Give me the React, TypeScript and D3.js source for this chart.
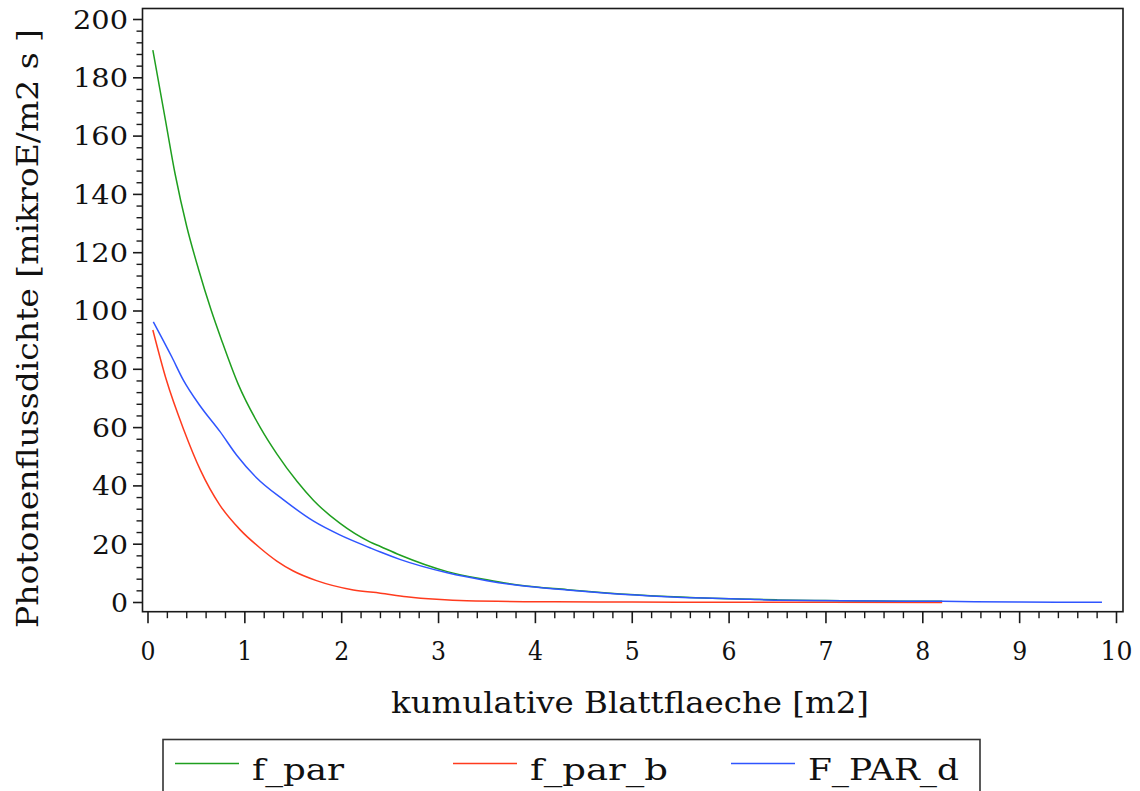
import React from "react";
import * as d3 from "d3";

// ---- data ----
const seriesNames = ["f_par", "f_par_b", "F_PAR_d"];
const seriesColors = ["#1f9f1f", "#ff3b1e", "#2f55ff"];

const fParX = [0.05, 0.18, 0.28, 0.40, 0.52, 0.65, 0.76, 0.93, 1.16, 1.33, 1.54, 1.71, 1.98, 2.29, 2.40, 2.60, 3.09, 3.50, 3.84, 4.33, 4.74, 5.36, 6.0, 6.5, 7.0, 7.5, 8.2];
const fParY = [189.5, 165.5, 147, 129, 114.5, 100.5, 90, 75, 60, 51, 41.5, 35, 27.2, 20.8, 19.2, 16.3, 10.6, 7.8, 5.9, 4.4, 3.3, 2.1, 1.3, 0.9, 0.65, 0.5, 0.4];

const fParBX = [0.05, 0.19, 0.37, 0.54, 0.74, 0.95, 1.16, 1.33, 1.50, 1.74, 2.12, 2.40, 2.67, 2.98, 3.29, 4.2, 5.0, 6.0, 7.0, 8.2];
const fParBY = [93.5, 76.3, 59.2, 45.5, 33.5, 25, 18.6, 14.2, 10.8, 7.5, 4.3, 3.2, 2.0, 1.1, 0.6, 0.25, 0.15, 0.1, 0.05, 0.03];

const fParDX = [0.055, 0.245, 0.365, 0.537, 0.744, 0.916, 1.12, 1.40, 1.71, 1.98, 2.29, 2.40, 2.60, 3.09, 3.50, 3.84, 4.33, 4.74, 5.36, 6.22, 6.5, 7.5, 8.2, 9.0, 9.85];
const fParDY = [96.3, 84.3, 76.3, 67.5, 58.6, 50.5, 42.8, 35.2, 27.9, 23.2, 18.8, 17.3, 14.8, 10.2, 7.5, 5.8, 4.3, 3.2, 2.0, 1.1, 0.8, 0.5, 0.4, 0.15, 0.1];

const xTicks = [0, 1, 2, 3, 4, 5, 6, 7, 8, 9, 10];
const yTicks = [0, 20, 40, 60, 80, 100, 120, 140, 160, 180, 200];
const xMinorStep = 0.2;
const yMinorStep = 4;

const xTitle = "kumulative Blattflaeche [m2]";
const yTitle = "Photonenflussdichte [mikroE/m2 s ]";

export default function App() {
  const W = 1140;
  const H = 791;
  const x = d3.scaleLinear().domain([0, 10]).range([148, 1116.5]);
  const y = d3.scaleLinear().domain([0, 200]).range([602.5, 19.5]);

  const frameL = x(0) - 5.5;
  const frameR = x(10) + 6.5;
  const frameT = y(200) - 11;
  const frameB = y(0) + 9.2;

  const line = d3
    .line<[number, number]>()
    .x((d) => x(d[0]))
    .y((d) => y(d[1]))
    .curve(d3.curveMonotoneX);

  const series = [
    d3.zip(fParX, fParY) as [number, number][],
    d3.zip(fParBX, fParBY) as [number, number][],
    d3.zip(fParDX, fParDY) as [number, number][],
  ];

  const xMinor = d3.range(0, 10 + 1e-9, xMinorStep).filter((v) => Math.abs(v - Math.round(v)) > 1e-6);
  const yMinor = d3.range(0, 200 + 1e-9, yMinorStep).filter((v) => v % 20 !== 0);

  const font = "'DejaVu Serif', serif";
  const ink = "#1a1a1a";

  const legendX = [175, 453, 731];
  const legendTextW = [92, 138, 151];

  return (
    <svg
      width={W}
      height={H}
      style={{ position: "absolute", left: 0, top: 0, background: "#fff" }}
      fontFamily={font}
    >
      <rect x={0} y={0} width={W} height={H} fill="#fff" />
      {/* frame */}
      <rect
        x={frameL}
        y={frameT}
        width={frameR - frameL}
        height={frameB - frameT}
        fill="none"
        stroke={ink}
        strokeWidth={1.6}
      />
      {/* y ticks */}
      {yTicks.map((t) => (
        <g key={"yt" + t}>
          <line x1={frameL - 9.5} x2={frameL} y1={y(t)} y2={y(t)} stroke={ink} strokeWidth={1.6} />
          <text
            x={128}
            y={y(t)}
            dy="0.36em"
            textAnchor="end"
            fontSize={26}
            fill="#111"
            textLength={String(t).length * 19 - 2}
            lengthAdjust="spacingAndGlyphs"
          >
            {t}
          </text>
        </g>
      ))}
      {yMinor.map((t) => (
        <line key={"ym" + t} x1={frameL - 6} x2={frameL} y1={y(t)} y2={y(t)} stroke={ink} strokeWidth={1.4} />
      ))}
      {/* x ticks */}
      {xTicks.map((t) => (
        <g key={"xt" + t}>
          <line x1={x(t)} x2={x(t)} y1={frameB} y2={frameB + 11.5} stroke={ink} strokeWidth={1.6} />
          <text
            x={x(t)}
            y={659.5}
            textAnchor="middle"
            fontSize={26}
            fill="#111"
            textLength={String(t).length * 17 - 2}
            lengthAdjust="spacingAndGlyphs"
          >
            {t}
          </text>
        </g>
      ))}
      {xMinor.map((t) => (
        <line key={"xm" + t} x1={x(t)} x2={x(t)} y1={frameB} y2={frameB + 6.5} stroke={ink} strokeWidth={1.4} />
      ))}
      {/* axis titles */}
      <text
        x={630}
        y={713}
        textAnchor="middle"
        fontSize={29}
        fill="#111"
        textLength={478}
        lengthAdjust="spacingAndGlyphs"
      >
        {xTitle}
      </text>
      <text
        transform={`translate(37.5, 328.5) rotate(-90)`}
        textAnchor="middle"
        fontSize={29}
        fill="#111"
        textLength={599}
        lengthAdjust="spacingAndGlyphs"
      >
        {yTitle}
      </text>
      {/* curves */}
      {series.map((s, i) => (
        <path
          key={"s" + i}
          d={line(s) || ""}
          fill="none"
          stroke={seriesColors[i]}
          strokeWidth={1.5}
        />
      ))}
      {/* legend */}
      <rect x={163} y={739.5} width={817} height={80} fill="none" stroke="#333" strokeWidth={1.6} />
      {seriesNames.map((n, i) => (
        <g key={"lg" + i}>
          <line
            x1={legendX[i]}
            x2={legendX[i] + 64}
            y1={763.5}
            y2={763.5}
            stroke={seriesColors[i]}
            strokeWidth={1.5}
          />
          <text
            x={legendX[i] + 77}
            y={780}
            fontSize={29}
            fill="#111"
            textLength={legendTextW[i]}
            lengthAdjust="spacingAndGlyphs"
          >
            {n}
          </text>
        </g>
      ))}
    </svg>
  );
}
